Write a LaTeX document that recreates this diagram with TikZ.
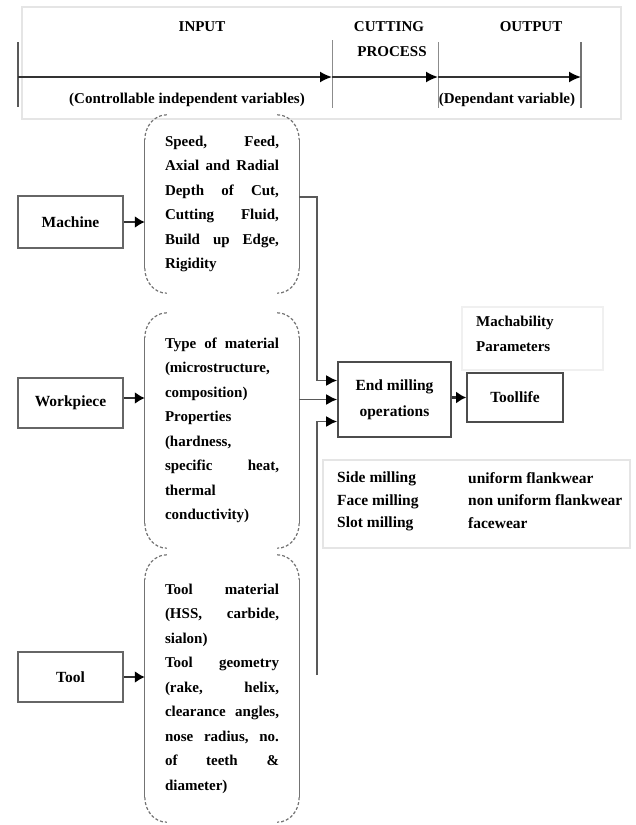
\documentclass[tikz,border=0pt]{standalone}
\usepackage{fontspec}
\setmainfont{Liberation Serif}
\usetikzlibrary{arrows.meta}
\newcommand\jline[1]{\makebox[114pt][l]{#1}}
\tikzset{
  lbl/.style={font=\fontsize{15}{18}\selectfont\bfseries, inner sep=0pt},
  inbox/.style={draw=black!60, line width=1.6pt, font=\fontsize{15.5}{18}\selectfont\bfseries, minimum width=105pt, minimum height=50pt, inner sep=0pt},
  opbox/.style={draw=black!70, line width=1.6pt, font=\fontsize{15.5}{26}\selectfont\bfseries, align=center, inner sep=0pt},
  brk/.style={text width=114pt, inner xsep=20pt, inner ysep=0pt, align=left, font=\fontsize{15}{24.5}\selectfont\bfseries},
  brkside/.style={draw=black!55, line width=1.2pt},
  brkcorner/.style={draw=black!55, line width=1.2pt, dash pattern=on 3pt off 2pt},
  axis/.style={draw=black!80, line width=1.8pt, -{Latex[length=12pt,width=11pt,color=black,fill=black]}},
  arr/.style={draw=black!65, line width=1.8pt, -{Latex[length=11pt,width=11pt,color=black,fill=black]}},
  thick arr/.style={draw=black!80, line width=2.6pt, -{Latex[length=10pt,width=12pt,color=black,fill=black]}},
  frame/.style={draw=black!10, line width=1.6pt},
}
\begin{document}
\begin{tikzpicture}[x=1pt,y=-1pt]
\useasboundingbox (0,0) rectangle (635,825);
% top frame
\draw[frame] (22,7) rectangle (621,119);
\draw[draw=black!65, line width=1.8pt] (18,42) -- (18,107);
\draw[draw=black!45, line width=0.8pt] (332,40) -- (332,108);
\draw[draw=black!45, line width=0.8pt] (438,42) -- (438,108);
\draw[draw=black!55, line width=1.4pt] (581,42) -- (581,108);
\coordinate (a0) at (18,77);
\coordinate (a1) at (332,77);
\coordinate (a2) at (438,77);
\coordinate (a3) at (581,77);
\draw[axis] (a0) -- (a1);
\draw[axis] (a1) -- (a2);
\draw[axis] (a2) -- (a3);
\node[lbl] (tin) at (202,27) {INPUT};
\node[lbl] (tcut) at (389,27) {CUTTING};
\node[lbl] (tproc) at (392,52) {PROCESS};
\node[lbl] (tout) at (531,27) {OUTPUT};
\node[lbl] (tctrl) at (187,100) {(Controllable independent variables)};
\node[lbl] (tdep) at (507,100) {(Dependant variable)};

% left boxes
\node[inbox, minimum height=52pt] (mach) at (70.5,222) {Machine};
\node[inbox] (work) at (70.5,403) {Workpiece};
\node[inbox] (tool) at (70.5,677) {Tool};

% bracket boxes
\node[brk, minimum height=178pt] (b1) at (222,204) {%
\jline{Speed,\hfill Feed,}\\
\jline{Axial\hfill and\hfill Radial}\\
\jline{Depth\hfill of\hfill Cut,}\\
\jline{Cutting\hfill Fluid,}\\
\jline{Build\hfill up\hfill Edge,}\\
Rigidity};
\node[brk, minimum height=235pt] (b2) at (222,430.5) {%
\jline{Type\hfill of\hfill material}\\
(microstructure,\\
composition)\\
Properties\\
(hardness,\\
\jline{specific\hfill heat,}\\
thermal\\
conductivity)};
\node[brk, minimum height=267pt] (b3) at (222,688.5) {%
\jline{Tool\hfill material}\\
\jline{(HSS,\hfill carbide,}\\
sialon)\\
\jline{Tool\hfill geometry}\\
\jline{(rake,\hfill helix,}\\
\jline{clearance\hfill angles,}\\
\jline{nose\hfill radius,\hfill no.}\\
\jline{of\hfill teeth\hfill \&}\\
diameter)};
\foreach \b in {b1,b2,b3}{
  \draw[brkcorner] ([xshift=22pt]\b.north west) to[out=180,in=90] ([yshift=-25pt]\b.north west);
  \draw[brkcorner] ([yshift=25pt]\b.south west) to[out=-90,in=180] ([xshift=22pt]\b.south west);
  \draw[brkcorner] ([xshift=-22pt]\b.north east) to[out=0,in=90] ([yshift=-25pt]\b.north east);
  \draw[brkcorner] ([yshift=25pt]\b.south east) to[out=-90,in=0] ([xshift=-22pt]\b.south east);
  \draw[brkside] ([yshift=-25pt]\b.north west) -- ([yshift=25pt]\b.south west);
  \draw[brkside] ([yshift=-25pt]\b.north east) -- ([yshift=25pt]\b.south east);
}

% arrows from input boxes
\draw[thick arr] (mach.east) -- (mach.east -| b1.west);
\draw[thick arr] (work.east |- 0,398) -- (b1.west |- 0,398);
\draw[thick arr] (tool.east) -- (tool.east -| b3.west);

% operation boxes
\node[opbox, minimum width=113pt, minimum height=75pt] (em) at (394.5,399.5) {End milling\\operations};
\node[opbox, minimum width=96pt, minimum height=49pt] (tl) at (515,397.5) {Toollife};

% connectors into end milling
\coordinate (j1) at (317,197);
\coordinate (j3) at (317,675);
\draw[arr] (b1.east |- j1) -- (j1) |- ([yshift=19pt]em.west);
\draw[arr] (b2.east |- em.west) -- (em.west);
\draw[arr] (j3) |- ([yshift=-22pt]em.west);
\draw[thick arr] (em.east |- tl.west) -- (tl.west);

% machinability
\draw[draw=black!6, line width=1.2pt] (462,307) rectangle (603,370);
\node[lbl, font=\fontsize{15}{25}\selectfont\bfseries, align=left, anchor=north west] (mp) at (476,316) {Machability\\Parameters};

% bottom table
\draw[frame] (323,460) rectangle (630,548);
\node[lbl, font=\fontsize{15.5}{22.5}\selectfont\bfseries, align=left, anchor=north west] (ops) at (337,472) {Side milling\\Face milling\\Slot milling};
\node[lbl, font=\fontsize{15.5}{22.5}\selectfont\bfseries, align=left, anchor=north west] (wear) at (468,472) {uniform flankwear\\non uniform flankwear\\facewear};
\end{tikzpicture}
\end{document}
